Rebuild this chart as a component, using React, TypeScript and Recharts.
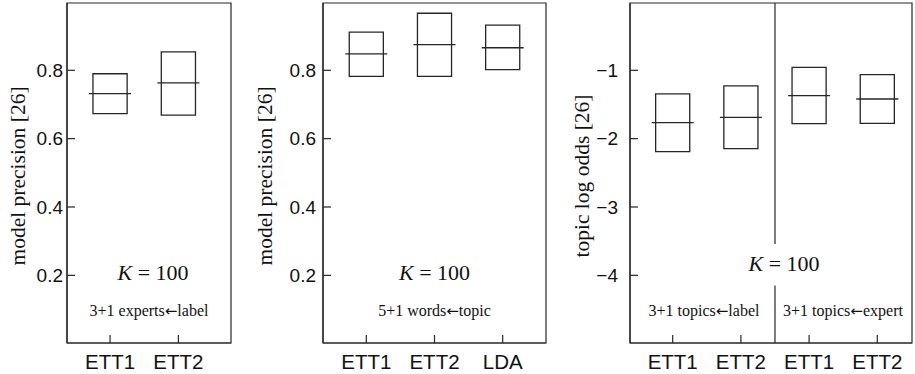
import React from 'react';
import { ComposedChart, XAxis, YAxis, Scatter, ReferenceArea, ReferenceLine } from 'recharts';

// ---------- data ----------
const P1_CATEGORIES = ['ETT1', 'ETT2'];
const P1_Q3 = [0.79, 0.854];
const P1_MEDIAN = [0.732, 0.763];
const P1_Q1 = [0.673, 0.669];
const P1_TICKS = [0.2, 0.4, 0.6, 0.8];

const P2_CATEGORIES = ['ETT1', 'ETT2', 'LDA'];
const P2_Q3 = [0.912, 0.967, 0.932];
const P2_MEDIAN = [0.848, 0.875, 0.866];
const P2_Q1 = [0.782, 0.782, 0.802];
const P2_TICKS = [0.2, 0.4, 0.6, 0.8];

const P3_CATEGORIES = ['ETT1', 'ETT2', 'ETT1', 'ETT2'];
const P3_Q3 = [-1.346, -1.229, -0.956, -1.064];
const P3_MEDIAN = [-1.766, -1.688, -1.371, -1.42];
const P3_Q1 = [-2.19, -2.147, -1.781, -1.776];
const P3_TICKS = [-4, -3, -2, -1];

const LINE = '#262626';
const TEXT = '#111';
const SANS = '"Liberation Sans", Arial, sans-serif';
const SERIF = '"Liberation Serif", "Times New Roman", serif';
const ARROW_FONT = '"DejaVu Sans", sans-serif';
const BOX_HALF = 0.25;
const MED_HALF_PX = 21;
const Y_TICK_FONT = 19;
const X_TICK_FONT = 20.5;

const MedianLine = (props: any) => {
  const { cx, cy } = props;
  if (cx == null || cy == null) return <g />;
  return <line x1={cx - MED_HALF_PX} x2={cx + MED_HALF_PX} y1={cy} y2={cy} stroke={LINE} strokeWidth={1.3} />;
};

type PanelProps = {
  left: number;
  width: number;
  yAxisWidth: number;
  xDomain: [number, number];
  yDomain: [number, number];
  categories: string[];
  q1: number[];
  q3: number[];
  median: number[];
  yTicks: number[];
  yLabel: string;
  yLabelX: number;
  yTickMargin: number;
  children?: React.ReactNode;
};

const fmtY = (v: number) => {
  const s = Number.isInteger(v) ? String(v) : v.toFixed(1);
  return s.replace('-', '\u2212');
};

const Panel = (p: PanelProps) => {
  const xs = p.categories.map((_, i) => i + 1);
  const medData = p.categories.map((c, i) => ({ x: i + 1, y: p.median[i], name: c }));
  return (
    <div style={{ position: 'absolute', left: p.left, top: 0 }}>
      <ComposedChart width={p.width} height={374} margin={{ top: 3, right: 1, bottom: 0, left: 0 }}>
        <XAxis
          dataKey="x"
          type="number"
          domain={p.xDomain}
          allowDataOverflow
          ticks={xs}
          tickFormatter={(v: number) => p.categories[Math.round(v) - 1] ?? ''}
          height={31}
          tickSize={-8}
          tickMargin={19}
          axisLine={{ stroke: LINE, strokeWidth: 1.2 }}
          tickLine={{ stroke: LINE, strokeWidth: 1.2 }}
          tick={{ fill: TEXT, fontFamily: SANS, fontSize: X_TICK_FONT }}
          interval={0}
        />
        <YAxis
          dataKey="y"
          type="number"
          domain={p.yDomain}
          allowDataOverflow
          ticks={p.yTicks}
          tickFormatter={fmtY}
          width={p.yAxisWidth}
          tickSize={-8}
          tickMargin={p.yTickMargin}
          axisLine={{ stroke: LINE, strokeWidth: 1.2 }}
          tickLine={{ stroke: LINE, strokeWidth: 1.2 }}
          tick={{ fill: TEXT, fontFamily: SANS, fontSize: Y_TICK_FONT }}
          label={{
            content: (lp: any) => {
              const vb = lp.viewBox || {};
              const cx = p.yLabelX;
              const cy = (vb.y ?? 3) + (vb.height ?? 340) / 2 + 3;
              return (
                <text
                  x={cx}
                  y={cy}
                  transform={`rotate(-90, ${cx}, ${cy})`}
                  textAnchor="middle"
                  dominantBaseline="central"
                  fontFamily={SERIF}
                  fontSize={21.5}
                  fill={TEXT}
                >
                  {p.yLabel}
                </text>
              );
            },
          }}
        />
        <ReferenceArea
          x1={p.xDomain[0]}
          x2={p.xDomain[1]}
          y1={p.yDomain[0]}
          y2={p.yDomain[1]}
          fill="none"
          fillOpacity={0}
          stroke={LINE}
          strokeWidth={1.2}
          ifOverflow="visible"
        />
        {p.categories.map((c, i) => (
          <ReferenceArea
            key={`box-${i}`}
            x1={i + 1 - BOX_HALF}
            x2={i + 1 + BOX_HALF}
            y1={p.q1[i]}
            y2={p.q3[i]}
            fill="none"
            fillOpacity={0}
            stroke={LINE}
            strokeWidth={1.3}
            ifOverflow="visible"
          />
        ))}
        <Scatter data={medData} dataKey="y" shape={<MedianLine />} isAnimationActive={false} />
        {p.children}
      </ComposedChart>
    </div>
  );
};

const KLabel = ({ x, y }: { x: number; y: number }) => (
  <text x={x} y={y} textAnchor="middle" fontFamily={SERIF} fontSize={22} fill={TEXT}>
    <tspan fontStyle="italic">K</tspan>
    {' = 100'}
  </text>
);

const Note = ({ x, y, left, right }: { x: number; y: number; left: string; right: string }) => (
  <text x={x} y={y} textAnchor="middle" fontFamily={SERIF} fontSize={16} fill={TEXT}>
    {left}
    <tspan fontFamily={ARROW_FONT} fontSize={15}>{'\u2190'}</tspan>
    {right}
  </text>
);

export default function App() {
  return (
    <div style={{ position: 'absolute', left: 0, top: 0, width: 915, height: 374, background: '#fff' }}>
      <Panel
        left={0}
        width={232}
        yAxisWidth={67}
        xDomain={[0.37, 2.77]}
        yDomain={[0.002, 0.997]}
        categories={P1_CATEGORIES}
        q1={P1_Q1}
        q3={P1_Q3}
        median={P1_MEDIAN}
        yTicks={P1_TICKS}
        yLabel="model precision [26]"
        yLabelX={17.5}
        yTickMargin={12}
      >
        <KLabel x={153} y={280} />
        <Note x={149} y={316} left="3+1 experts" right="label" />
      </Panel>
      <Panel
        left={240}
        width={307}
        yAxisWidth={83}
        xDomain={[0.365, 3.635]}
        yDomain={[0.002, 0.997]}
        categories={P2_CATEGORIES}
        q1={P2_Q1}
        q3={P2_Q3}
        median={P2_MEDIAN}
        yTicks={P2_TICKS}
        yLabel="model precision [26]"
        yLabelX={25}
        yTickMargin={15}
      >
        <KLabel x={194.5} y={280} />
        <Note x={194.5} y={316} left="5+1 words" right="topic" />
      </Panel>
      <Panel
        left={550}
        width={363}
        yAxisWidth={80}
        xDomain={[0.374, 4.509]}
        yDomain={[-4.99, -0.015]}
        categories={P3_CATEGORIES}
        q1={P3_Q1}
        q3={P3_Q3}
        median={P3_MEDIAN}
        yTicks={P3_TICKS}
        yLabel="topic log odds [26]"
        yLabelX={32}
        yTickMargin={20}
      >
        <ReferenceLine
          segment={[
            { x: 2.5, y: -0.015 },
            { x: 2.5, y: -3.54 },
          ]}
          stroke={LINE}
          strokeWidth={1.2}
          ifOverflow="visible"
        />
        <ReferenceLine
          segment={[
            { x: 2.5, y: -4.15 },
            { x: 2.5, y: -4.99 },
          ]}
          stroke={LINE}
          strokeWidth={1.2}
          ifOverflow="visible"
        />
        <KLabel x={234} y={271} />
        <Note x={154} y={316} left="3+1 topics" right="label" />
        <Note x={293} y={316} left="3+1 topics" right="expert" />
      </Panel>
    </div>
  );
}
